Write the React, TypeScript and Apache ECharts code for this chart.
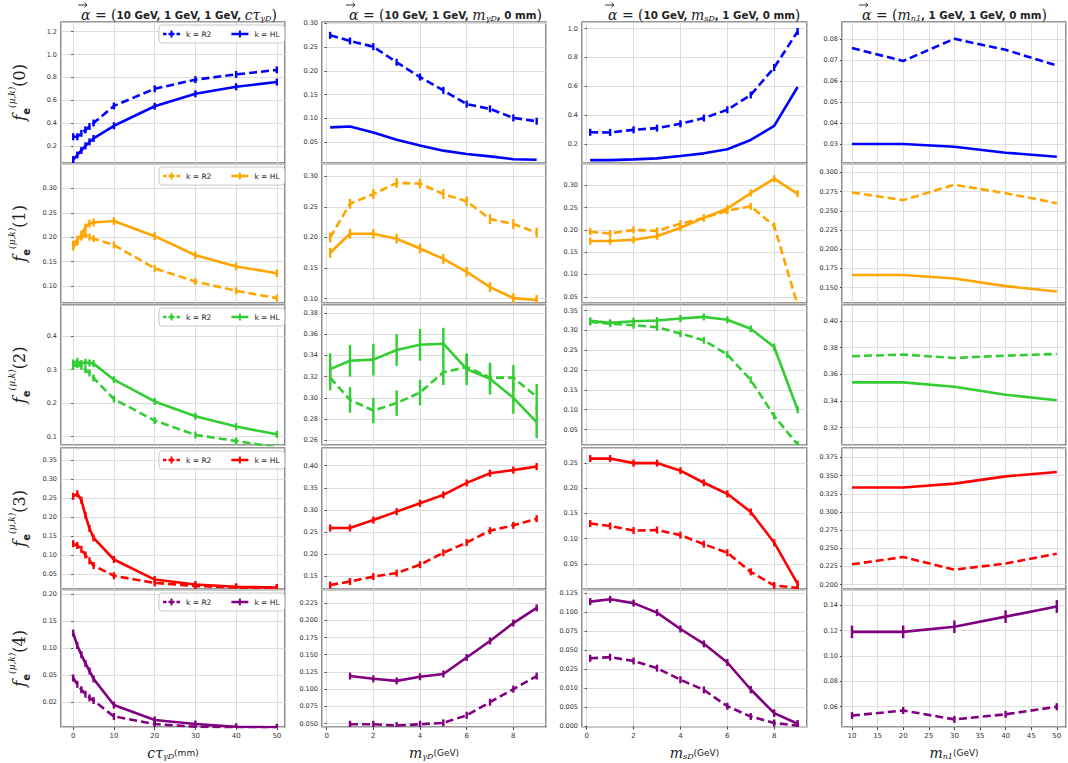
import React, { useEffect, useRef } from "react";
import * as echarts from "echarts";

// ---------- x values ----------
const xCtau = [0, 1, 2, 3, 4, 5, 10, 20, 30, 40, 50];
const xMgd = [0.15, 1, 2, 3, 4, 5, 6, 7, 8, 9];
const xMgdLast = [1, 2, 3, 4, 5, 6, 7, 8, 9];
const xMsd = [0.15, 1, 2, 3, 4, 5, 6, 7, 8, 9];
const xMn1 = [10, 20, 30, 40, 50];

// ---------- f(0) ----------
const r2_0_ctau = [0.28, 0.28, 0.31, 0.34, 0.37, 0.4, 0.55, 0.7, 0.78, 0.826, 0.865];
const hl_0_ctau = [0.08, 0.12, 0.16, 0.2, 0.235, 0.265, 0.376, 0.547, 0.656, 0.718, 0.759];
const r2_0_mgd = [0.275, 0.263, 0.251, 0.218, 0.187, 0.159, 0.13, 0.12, 0.101, 0.094];
const hl_0_mgd = [0.081, 0.083, 0.07, 0.055, 0.043, 0.032, 0.025, 0.02, 0.014, 0.013];
const r2_0_msd = [0.281, 0.28, 0.298, 0.31, 0.34, 0.38, 0.437, 0.54, 0.73, 0.98];
const hl_0_msd = [0.088, 0.088, 0.093, 0.1, 0.116, 0.135, 0.163, 0.228, 0.326, 0.595];
const r2_0_mn1 = [0.0756, 0.0695, 0.08, 0.0748, 0.0673];
const hl_0_mn1 = [0.03, 0.03, 0.0287, 0.0259, 0.024];

// ---------- f(1) ----------
const r2_1_ctau = [0.18, 0.19, 0.2, 0.205, 0.2, 0.197, 0.184, 0.136, 0.109, 0.09, 0.075];
const hl_1_ctau = [0.185, 0.195, 0.205, 0.22, 0.228, 0.23, 0.233, 0.202, 0.163, 0.14, 0.126];
const r2_1_mgd = [0.2, 0.255, 0.271, 0.289, 0.288, 0.271, 0.259, 0.23, 0.222, 0.208];
const hl_1_mgd = [0.175, 0.206, 0.206, 0.198, 0.182, 0.165, 0.144, 0.119, 0.101, 0.098];
const r2_1_msd = [0.196, 0.192, 0.2, 0.198, 0.214, 0.227, 0.243, 0.253, 0.209, 0.031];
const hl_1_msd = [0.175, 0.175, 0.178, 0.186, 0.205, 0.227, 0.248, 0.283, 0.315, 0.281];
const r2_1_mn1 = [0.274, 0.264, 0.284, 0.273, 0.26];
const hl_1_mn1 = [0.1665, 0.1665, 0.162, 0.152, 0.145];

// ---------- f(2) ----------
const r2_2_ctau = [0.31, 0.315, 0.31, 0.3, 0.29, 0.275, 0.212, 0.148, 0.105, 0.087, 0.068];
const hl_2_ctau = [0.32, 0.325, 0.318, 0.322, 0.32, 0.318, 0.27, 0.205, 0.161, 0.13, 0.107];
const r2_2_mgd = [0.319, 0.298, 0.288, 0.295, 0.305, 0.324, 0.329, 0.319, 0.319, 0.301];
const hl_2_mgd = [0.327, 0.335, 0.336, 0.345, 0.35, 0.351, 0.327, 0.318, 0.3, 0.277];
const r2_2_msd = [0.321, 0.317, 0.313, 0.308, 0.292, 0.275, 0.239, 0.175, 0.084, 0.012];
const hl_2_msd = [0.324, 0.319, 0.323, 0.325, 0.33, 0.334, 0.327, 0.304, 0.258, 0.1];
const r2_2_mn1 = [0.3736, 0.3748, 0.3723, 0.374, 0.3753];
const hl_2_mn1 = [0.354, 0.354, 0.3507, 0.3447, 0.3406];

// ---------- f(3) ----------
const r2_3_ctau = [0.13, 0.125, 0.115, 0.1, 0.085, 0.072, 0.045, 0.026, 0.018, 0.014, 0.013];
const hl_3_ctau = [0.255, 0.262, 0.245, 0.205, 0.17, 0.145, 0.088, 0.035, 0.022, 0.016, 0.014];
const r2_3_mgd = [0.13, 0.138, 0.149, 0.157, 0.176, 0.203, 0.226, 0.253, 0.265, 0.28];
const hl_3_mgd = [0.259, 0.259, 0.277, 0.296, 0.315, 0.334, 0.361, 0.383, 0.39, 0.398];
const r2_3_msd = [0.13, 0.125, 0.116, 0.117, 0.107, 0.089, 0.072, 0.034, 0.007, 0.002];
const hl_3_msd = [0.259, 0.259, 0.25, 0.25, 0.235, 0.211, 0.189, 0.153, 0.092, 0.01];
const r2_3_mn1 = [0.228, 0.238, 0.2206, 0.229, 0.2426];
const hl_3_mn1 = [0.3336, 0.3336, 0.339, 0.349, 0.355];

// ---------- f(4) ----------
const r2_4_ctau = [0.047, 0.04, 0.034, 0.029, 0.025, 0.022, 0.0148, 0.012, 0.011, 0.0105, 0.0103];
const hl_4_ctau = [0.128, 0.105, 0.088, 0.072, 0.058, 0.046, 0.019, 0.0135, 0.012, 0.011, 0.0108];
const r2_4_mgd = [0.049, 0.049, 0.047, 0.049, 0.051, 0.062, 0.081, 0.1, 0.119];
const hl_4_mgd = [0.119, 0.115, 0.112, 0.118, 0.122, 0.146, 0.17, 0.196, 0.218];
const r2_4_msd = [0.0395, 0.041, 0.036, 0.0266, 0.0168, 0.0096, 0.0053, 0.0026, 0.0009, 0.0002];
const hl_4_msd = [0.114, 0.117, 0.112, 0.0995, 0.078, 0.0585, 0.034, 0.0097, 0.0035, 0.0007];
const r2_4_mn1 = [0.053, 0.057, 0.05, 0.054, 0.06];
const hl_4_mn1 = [0.119, 0.119, 0.123, 0.131, 0.139];

// tick values of the two non-linear (equally spaced ticks) axes of the last row
const ticks_4_ctau = [0.01, 0.02, 0.05, 0.1, 0.15, 0.2];
const ticks_4_msd = [0, 0.005, 0.01, 0.025, 0.05, 0.075, 0.1, 0.125];

// error bar half-widths per row / column
const errR2 = [
  [0.015, 0.006, 0.015, 0],
  [0.006, 0.008, 0.006, 0],
  [0.01, 0.012, 0.006, 0],
  [0.005, 0.006, 0.003, 0],
  [0.001, 0.002, 0.0005, 0.002],
];
const errHL = [
  [0.02, 0, 0, 0],
  [0.008, 0.008, 0.008, 0],
  [0.01, 0.015, 0.008, 0],
  [0.008, 0.008, 0.006, 0],
  [0.001, 0.005, 0.001, 0.005],
];

const PANELS = [
  [
    { x: xCtau, r2: r2_0_ctau, hl: hl_0_ctau },
    { x: xMgd, r2: r2_0_mgd, hl: hl_0_mgd },
    { x: xMsd, r2: r2_0_msd, hl: hl_0_msd },
    { x: xMn1, r2: r2_0_mn1, hl: hl_0_mn1 },
  ],
  [
    { x: xCtau, r2: r2_1_ctau, hl: hl_1_ctau },
    { x: xMgd, r2: r2_1_mgd, hl: hl_1_mgd },
    { x: xMsd, r2: r2_1_msd, hl: hl_1_msd },
    { x: xMn1, r2: r2_1_mn1, hl: hl_1_mn1 },
  ],
  [
    { x: xCtau, r2: r2_2_ctau, hl: hl_2_ctau },
    { x: xMgd, r2: r2_2_mgd, hl: hl_2_mgd },
    { x: xMsd, r2: r2_2_msd, hl: hl_2_msd },
    { x: xMn1, r2: r2_2_mn1, hl: hl_2_mn1 },
  ],
  [
    { x: xCtau, r2: r2_3_ctau, hl: hl_3_ctau },
    { x: xMgd, r2: r2_3_mgd, hl: hl_3_mgd },
    { x: xMsd, r2: r2_3_msd, hl: hl_3_msd },
    { x: xMn1, r2: r2_3_mn1, hl: hl_3_mn1 },
  ],
  [
    { x: xCtau, r2: r2_4_ctau, hl: hl_4_ctau, ticks: ticks_4_ctau },
    { x: xMgdLast, r2: r2_4_mgd, hl: hl_4_mgd },
    { x: xMsd, r2: r2_4_msd, hl: hl_4_msd, ticks: ticks_4_msd },
    { x: xMn1, r2: r2_4_mn1, hl: hl_4_mn1 },
  ],
];

const ROW_COLORS = ["#0000ff", "#ffa500", "#32cd32", "#ff0000", "#800080"];

// axis ranges (for the tick-indexed axes, ranges are in tick-index units)
const X_MIN = [-3, -0.2, -0.2, 8.05];
const X_MAX = [52, 9.4, 9.4, 51.8];
const X_STEP = [10, 2, 2, 5];
const Y_MIN = [
  [0.05, 0.006, 0.068, 0.021],
  [0.065, 0.093, 0.036, 0.13],
  [0.075, 0.2555, 0.011, 0.307],
  [0.01, 0.121, 0.0, 0.194],
  [0.09, 0.045, -0.03, 0.044],
];
const Y_MAX = [
  [1.285, 0.303, 1.046, 0.088],
  [0.35, 0.32, 0.348, 0.311],
  [0.493, 0.3875, 0.364, 0.412],
  [0.383, 0.44, 0.28, 0.388],
  [5.15, 0.244, 7.17, 0.152],
];
const Y_STEP = [
  [0.2, 0.05, 0.2, 0.01],
  [0.05, 0.05, 0.05, 0.025],
  [0.1, 0.02, 0.05, 0.02],
  [0.05, 0.05, 0.05, 0.025],
  [1, 0.025, 1, 0.02],
];
const Y_DEC = [
  [1, 2, 1, 2],
  [2, 2, 2, 3],
  [1, 2, 2, 2],
  [2, 2, 2, 3],
  [2, 3, 3, 2],
];

const COL_LEFT = [61, 322, 582, 842];
const COL_W = [224, 224, 225, 224];
const ROW_TOP = [22, 164, 305, 448, 590];
const ROW_H = [141, 139, 140, 141, 137];
const TITLE_LEFT = [76, 344, 603, 857];

const TITLES = [
  "{m|α}{r| = (}{b|10 GeV, 1 GeV, 1 GeV, }{m|cτ}{s|γD}{r|)}",
  "{m|α}{r| = (}{b|10 GeV, 1 GeV, }{m|m}{s|γD}{b|, 0 mm}{r|)}",
  "{m|α}{r| = (}{b|10 GeV, }{m|m}{s|sD}{b|, 1 GeV, 0 mm}{r|)}",
  "{m|α}{r| = (}{m|m}{s|n1}{b|, 1 GeV, 1 GeV, 0 mm}{r|)}",
];
const X_NAMES = [
  "{m|cτ}{s|γD}{u|(mm)}",
  "{m|m}{s|γD}{u|(GeV)}",
  "{m|m}{s|sD}{u|(GeV)}",
  "{m|m}{s|n1}{u|(GeV)}",
];

const TXT = "#222";
const mathRich = {
  m: { fontFamily: "DejaVu Serif", fontStyle: "italic", fontWeight: "normal", fontSize: 14, color: TXT },
  r: { fontFamily: "DejaVu Serif", fontWeight: "normal", fontSize: 14, color: TXT },
  b: { fontFamily: "DejaVu Sans", fontWeight: "bold", fontSize: 10.3, color: TXT },
  s: {
    fontFamily: "DejaVu Serif",
    fontStyle: "italic",
    fontWeight: "normal",
    fontSize: 8,
    color: TXT,
    verticalAlign: "bottom",
    lineHeight: 8,
  },
  u: { fontFamily: "DejaVu Sans", fontWeight: "normal", fontSize: 9, color: TXT },
};
const yNameRich = {
  f: { fontFamily: "DejaVu Serif", fontStyle: "italic", fontSize: 17, color: TXT, lineHeight: 24 },
  e: { fontFamily: "DejaVu Sans", fontWeight: "bold", fontSize: 10, color: TXT, verticalAlign: "bottom", lineHeight: 10 },
  p: { fontFamily: "DejaVu Serif", fontStyle: "italic", fontSize: 9, color: TXT, verticalAlign: "top", lineHeight: 9 },
  n: { fontFamily: "DejaVu Serif", fontSize: 16, color: TXT },
};

// legend icons: dashed line + error-bar marker, solid line + marker
const ICON_R2 =
  "path://M0,5.5h7v5h-7z M11,5.5h4v5h-4z M15,1h4v14h-4z M19,5.5h4v5h-4z M27,5.5h7v5h-7z";
const ICON_HL = "path://M0,5.5h34v5h-34z M15,1h4v14h-4z";

// piecewise-linear mapping of a value onto an axis with equally spaced ticks
function tickIndex(v, ticks) {
  const n = ticks.length;
  let i = 0;
  if (v >= ticks[n - 1]) i = n - 2;
  else if (v > ticks[0]) {
    while (i < n - 2 && v > ticks[i + 1]) i++;
  }
  return i + (v - ticks[i]) / (ticks[i + 1] - ticks[i]);
}

function errSeries(gi, xs, ys, e, color, tf) {
  return {
    type: "custom",
    coordinateSystem: "cartesian2d",
    xAxisIndex: gi,
    yAxisIndex: gi,
    silent: true,
    clip: true,
    z: 4,
    data: xs.map((xv, i) => [xv, tf(ys[i]), tf(ys[i] + e), tf(ys[i] - e)]),
    renderItem: (params, api) => {
      const xv = api.value(0);
      const mid = api.coord([xv, api.value(1)]);
      const top = api.coord([xv, api.value(2)]);
      const bot = api.coord([xv, api.value(3)]);
      const y1 = Math.min(top[1], mid[1] - 3.5);
      const y2 = Math.max(bot[1], mid[1] + 3.5);
      return {
        type: "line",
        shape: { x1: mid[0], y1, x2: mid[0], y2 },
        style: { stroke: color, lineWidth: 2.4 },
      };
    },
  };
}

function buildOption() {
  const grid = [];
  const xAxis = [];
  const yAxis = [];
  const series = [];
  const legend = [];
  const title = [];
  const graphic = [];

  for (let c = 0; c < 4; c++) {
    title.push({
      text: TITLES[c],
      left: TITLE_LEFT[c],
      top: 3,
      textStyle: { rich: mathRich, fontWeight: "normal" },
    });
    // vector arrow above alpha (drawn as shapes)
    const ax = TITLE_LEFT[c] + 2;
    const ay = 5;
    graphic.push({
      type: "line",
      silent: true,
      shape: { x1: ax, y1: ay, x2: ax + 9, y2: ay },
      style: { stroke: TXT, lineWidth: 0.9 },
    });
    graphic.push({
      type: "polyline",
      silent: true,
      shape: { points: [[ax + 6.5, ay - 2.2], [ax + 9, ay], [ax + 6.5, ay + 2.2]] },
      style: { stroke: TXT, lineWidth: 0.9, fill: "none" },
    });
  }

  for (let r = 0; r < 5; r++) {
    const color = ROW_COLORS[r];
    for (let c = 0; c < 4; c++) {
      const gi = r * 4 + c;
      const p = PANELS[r][c];
      const dec = Y_DEC[r][c];
      const ticks = p.ticks;
      const tf = ticks ? (v) => tickIndex(v, ticks) : (v) => v;
      grid.push({
        left: COL_LEFT[c],
        top: ROW_TOP[r],
        width: COL_W[c],
        height: ROW_H[r],
        show: true,
        borderColor: "#333",
        borderWidth: 1.1,
        backgroundColor: "#fff",
      });
      xAxis.push({
        gridIndex: gi,
        type: "value",
        min: X_MIN[c],
        max: X_MAX[c],
        minInterval: X_STEP[c],
        maxInterval: X_STEP[c],
        axisLine: { show: false },
        axisTick: { show: r === 4, length: 3, lineStyle: { color: "#444" } },
        axisLabel: {
          show: r === 4,
          showMinLabel: false,
          showMaxLabel: false,
          fontSize: 7,
          fontFamily: "DejaVu Sans",
          color: "#333",
          margin: 5,
        },
        splitLine: { show: true, lineStyle: { color: "#d6d6d6", width: 0.8 } },
        name: r === 4 ? X_NAMES[c] : "",
        nameLocation: "middle",
        nameGap: 19,
        nameTextStyle: { rich: mathRich },
      });
      yAxis.push({
        gridIndex: gi,
        type: "value",
        min: Y_MIN[r][c],
        max: Y_MAX[r][c],
        minInterval: Y_STEP[r][c],
        maxInterval: Y_STEP[r][c],
        axisLine: { show: false },
        axisTick: { show: true, length: 2, lineStyle: { color: "#444" } },
        axisLabel: {
          showMinLabel: false,
          showMaxLabel: false,
          fontSize: 6.5,
          fontFamily: "DejaVu Sans",
          color: "#333",
          margin: 4,
          formatter: (v) => {
            const val = ticks ? ticks[Math.round(Number(v))] : Number(v);
            return val === undefined ? "" : val.toFixed(dec);
          },
        },
        splitLine: { show: true, lineStyle: { color: "#d6d6d6", width: 0.8 } },
        name: c === 0 ? `{f|f}{e|e}{p|(μ,k)}{n|(${r})}` : "",
        nameLocation: "middle",
        nameRotate: 90,
        nameGap: 30,
        nameTextStyle: { rich: yNameRich },
      });

      const mk = (kind, vals) => ({
        type: "line",
        name: `${kind}_${r}_${c}`,
        xAxisIndex: gi,
        yAxisIndex: gi,
        data: p.x.map((xv, i) => [xv, tf(vals[i])]),
        symbol: "none",
        showSymbol: false,
        silent: true,
        clip: true,
        z: 3,
        lineStyle: { color, width: 2.6, type: kind === "R2" ? [8, 4] : "solid" },
        itemStyle: { color },
      });
      series.push(mk("R2", p.r2));
      series.push(mk("HL", p.hl));
      if (errR2[r][c] > 0) series.push(errSeries(gi, p.x, p.r2, errR2[r][c], color, tf));
      if (errHL[r][c] > 0) series.push(errSeries(gi, p.x, p.hl, errHL[r][c], color, tf));
    }
    legend.push({
      left: 159,
      top: ROW_TOP[r] + 3,
      data: [
        { name: `R2_${r}_0`, icon: ICON_R2 },
        { name: `HL_${r}_0`, icon: ICON_HL },
      ],
      formatter: (n) => (n.startsWith("R2") ? "k = R2" : "k = HL"),
      selectedMode: false,
      orient: "horizontal",
      itemWidth: 17,
      itemHeight: 8,
      itemGap: 20,
      padding: [5, 5, 5, 4],
      borderColor: "#c8c8c8",
      borderWidth: 1,
      borderRadius: 3,
      backgroundColor: "rgba(255,255,255,0.85)",
      itemStyle: { color: ROW_COLORS[r], borderWidth: 0 },
      textStyle: { fontSize: 7.5, fontFamily: "DejaVu Sans", color: "#222", padding: [0, 0, 0, 1] },
    });
  }

  return {
    animation: false,
    backgroundColor: "#fff",
    title,
    legend,
    grid,
    xAxis,
    yAxis,
    series,
    graphic,
  };
}

export default function App() {
  const ref = useRef(null);
  useEffect(() => {
    const chart = echarts.init(ref.current, undefined, { renderer: "svg" });
    chart.setOption(buildOption());
    return () => chart.dispose();
  }, []);
  return (
    <div
      ref={ref}
      style={{ position: "absolute", left: 0, top: 0, width: 1068, height: 763, background: "#fff" }}
    />
  );
}
